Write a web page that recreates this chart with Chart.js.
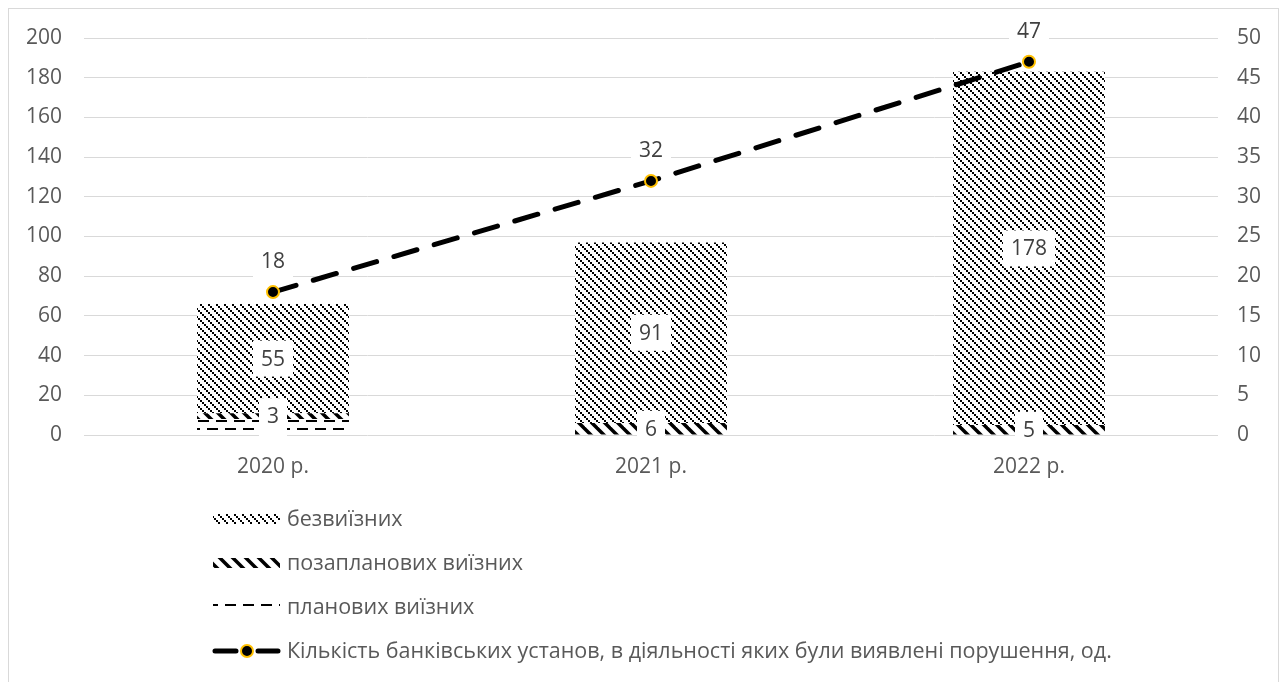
<!DOCTYPE html>
<html lang="uk">
<head>
<meta charset="utf-8">
<script src="https://cdn.jsdelivr.net/npm/chart.js@4.4.1/dist/chart.umd.min.js"></script>
<style>
  html, body { margin: 0; padding: 0; background: #ffffff; overflow: hidden; }
  #wrap { position: relative; width: 1284px; height: 682px; }
  #frame { position: absolute; left: 8px; top: 8px; width: 1271px; height: 700px; border: 1px solid #d9d9d9; box-sizing: border-box; }
  #chart { position: absolute; left: 0; top: 0; }
</style>
</head>
<body>
<div id="wrap">
  <div id="frame"></div>
  <canvas id="chart" width="1284" height="682"></canvas>
</div>
<script>
// Categories and series
const years = ["2020 р.", "2021 р.", "2022 р."];
const plannedOnsite = [8, 0, 0];
const unplannedOnsite = [3, 6, 5];
const offsite = [55, 91, 178];
const banksWithViolations = [18, 32, 47];

// Axis ranges
const leftAxisMax = 200;
const leftAxisStep = 20;
const rightAxisMax = 50;
const rightAxisStep = 5;

const seriesNames = [
  "безвиїзних",
  "позапланових виїзних",
  "планових виїзних",
  "Кількість банківських установ, в діяльності яких були виявлені порушення, од.",
];

const FONT = "'Open Sans', 'Noto Sans', sans-serif";
const TEXT_GREY = "#595959";
const LABEL_GREY = "#404040";
const GRID_GREY = "#d9d9d9";
const MARKER_RING = "#ffc000";

// Hatch fills, built on small tiles
function makeTile(w, h, draw) {
  const c = document.createElement("canvas");
  c.width = w;
  c.height = h;
  const g = c.getContext("2d");
  g.fillStyle = "#ffffff";
  g.fillRect(0, 0, w, h);
  g.fillStyle = "#000000";
  draw(g);
  return c;
}

// thin dotted downward diagonal
const fineDiagTile = makeTile(8, 8, function (g) {
  for (let i = 0; i < 8; i += 2) g.fillRect(i, i, 2, 2);
});

// wide downward diagonal
const wideDiagTile = makeTile(13, 13, function (g) {
  g.strokeStyle = "#000000";
  g.lineWidth = 3.5;
  for (let k = -1; k <= 1; k++) {
    g.beginPath();
    g.moveTo(k * 13 - 2, -2);
    g.lineTo(k * 13 + 15, 15);
    g.stroke();
  }
});

// dashed horizontal
const dashTile = makeTile(18, 16, function (g) {
  g.fillRect(0, 4, 11, 2);
  g.fillRect(9, 12, 9, 2);
  g.fillRect(0, 12, 2, 2);
});

const ctx = document.getElementById("chart").getContext("2d");
const fineDiag = ctx.createPattern(fineDiagTile, "repeat");
const wideDiag = ctx.createPattern(wideDiagTile, "repeat");
const dashFill = ctx.createPattern(dashTile, "repeat");

// Value labels on white boxes, later series on top
const valueLabels = {
  id: "valueLabels",
  afterDatasetsDraw(chart) {
    const c = chart.ctx;
    c.save();
    c.font = "21px " + FONT;
    c.textAlign = "center";
    c.textBaseline = "middle";
    chart.data.datasets.forEach(function (ds, di) {
      const meta = chart.getDatasetMeta(di);
      meta.data.forEach(function (el, i) {
        const v = ds.data[i];
        if (!v) return;
        const x = el.x;
        const y = ds.type === "line" ? el.y - 31 : (el.y + el.base) / 2;
        const text = String(v);
        const w = c.measureText(text).width + 16;
        const h = 36;
        c.fillStyle = "#ffffff";
        c.fillRect(x - w / 2, y - h / 2, w, h);
        c.fillStyle = LABEL_GREY;
        c.fillText(text, x, y + 1);
      });
    });
    c.restore();
  },
};

// Vertical legend under the plot
const stackedLegend = {
  id: "stackedLegend",
  afterDraw(chart) {
    const c = chart.ctx;
    const rows = [519, 563, 607, 651];
    const x0 = 213;
    const x1 = 280;
    c.save();
    const fills = [fineDiag, wideDiag, dashFill];
    for (let i = 0; i < 3; i++) {
      c.fillStyle = fills[i];
      c.fillRect(x0, rows[i] - 5, x1 - x0, 10);
    }
    // line swatch
    const ly = rows[3];
    c.strokeStyle = "#000000";
    c.lineWidth = 5;
    c.lineCap = "round";
    c.beginPath();
    c.moveTo(x0 + 2, ly);
    c.lineTo(x0 + 23, ly);
    c.moveTo(x0 + 45, ly);
    c.lineTo(x1 - 2, ly);
    c.stroke();
    c.beginPath();
    c.arc(x0 + 34, ly, 6, 0, Math.PI * 2);
    c.fillStyle = "#000000";
    c.fill();
    c.lineWidth = 2;
    c.strokeStyle = MARKER_RING;
    c.stroke();

    c.font = "21.5px " + FONT;
    c.textBaseline = "middle";
    c.textAlign = "left";
    c.fillStyle = TEXT_GREY;
    seriesNames.forEach(function (name, i) {
      c.fillText(name, 287, rows[i] + 1);
    });
    c.restore();
  },
};

new Chart(ctx, {
  type: "bar",
  data: {
    labels: years,
    datasets: [
      {
        label: seriesNames[2],
        data: plannedOnsite,
        backgroundColor: dashFill,
        borderWidth: 0,
        order: 1,
      },
      {
        label: seriesNames[1],
        data: unplannedOnsite,
        backgroundColor: wideDiag,
        borderWidth: 0,
        order: 1,
      },
      {
        label: seriesNames[0],
        data: offsite,
        backgroundColor: fineDiag,
        borderWidth: 0,
        order: 1,
      },
      {
        type: "line",
        label: seriesNames[3],
        data: banksWithViolations,
        yAxisID: "y1",
        borderColor: "#000000",
        borderWidth: 5,
        borderDash: [24, 18],
        borderCapStyle: "round",
        pointRadius: 6,
        pointBackgroundColor: "#000000",
        pointBorderColor: MARKER_RING,
        pointBorderWidth: 2,
        fill: false,
        order: 0,
      },
    ],
  },
  options: {
    responsive: false,
    animation: false,
    devicePixelRatio: 1,
    layout: { padding: { top: 38, left: 0, right: 0, bottom: 0 } },
    datasets: {
      bar: { categoryPercentage: 1, barPercentage: 0.402 },
    },
    plugins: {
      legend: { display: false },
      tooltip: { enabled: false },
    },
    scales: {
      x: {
        stacked: true,
        grid: { display: false },
        border: { display: false },
        ticks: { color: TEXT_GREY, font: { family: FONT, size: 21 }, padding: 11 },
        afterFit: function (scale) { scale.height = 247; },
      },
      y: {
        stacked: true,
        position: "left",
        min: 0,
        max: leftAxisMax,
        ticks: { stepSize: leftAxisStep, color: TEXT_GREY, font: { family: FONT, size: 21 }, padding: 22 },
        grid: { color: GRID_GREY, lineWidth: 1, drawTicks: false },
        border: { display: false },
        afterFit: function (scale) { scale.width = 84; },
      },
      y1: {
        position: "right",
        min: 0,
        max: rightAxisMax,
        ticks: { stepSize: rightAxisStep, color: TEXT_GREY, font: { family: FONT, size: 21 }, padding: 19 },
        grid: { display: false, drawTicks: false },
        border: { display: false },
        afterFit: function (scale) { scale.width = 66; },
      },
    },
  },
  plugins: [valueLabels, stackedLegend],
});
</script>
</body>
</html>
